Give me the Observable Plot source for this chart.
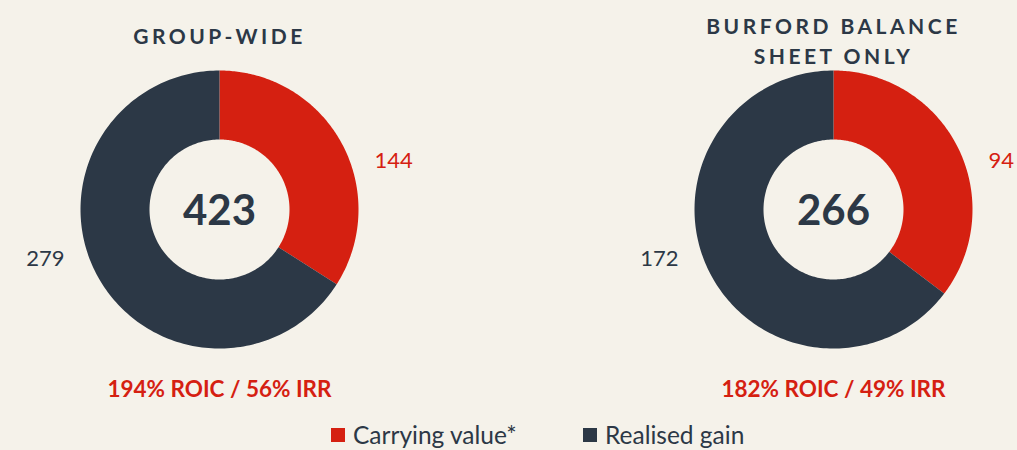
<!DOCTYPE html>
<html>
<head>
<meta charset="utf-8">
<script src="https://cdn.jsdelivr.net/npm/d3@7"></script>
<script src="https://cdn.jsdelivr.net/npm/@observablehq/plot@0.6"></script>
<style>
  html, body { margin: 0; padding: 0; background: #f5f2ea; }
  body { width: 1017px; height: 450px; overflow: hidden; font-family: Lato, "DejaVu Sans", sans-serif; }
  #chart svg { display: block; }
  .legend { position: absolute; left: 0; top: 420px; height: 30px; width: 1017px; }
  .legend .item { position: absolute; top: 0px; display: flex; align-items: center; font-size: 24.5px; line-height: 30px; color: #2c3846; white-space: nowrap; }
  .legend .sw { width: 14px; height: 14px; margin-right: 8px; }
</style>
</head>
<body>
<div id="chart"></div>
<script>
// ---- data ----
const titles = ["GROUP-WIDE", "BURFORD BALANCE\nSHEET ONLY"];
const categories = ["Carrying value*", "Realised gain"];
const carryingValue = [144, 94];
const realisedGain = [279, 172];
const totals = [423, 266];
const returnsText = ["194% ROIC / 56% IRR", "182% ROIC / 49% IRR"];
const colors = ["#d52011", "#2c3846"];

// ---- layout ----
const W = 1017, H = 420;
const centersX = [219, 833];
const centerY = 209;
const R = 139, r = 70;
const labelGap = 16, labelDy = 49;

const arcPoints = [];
const valueLabels = [];
titles.forEach((t, i) => {
  const slices = d3.pie().sort(null).value(d => d.value)([
    {cat: categories[0], value: carryingValue[i]},
    {cat: categories[1], value: realisedGain[i]}
  ]);
  slices.forEach((s, j) => {
    const key = i + "-" + j;
    const n = 180;
    const pts = [];
    for (let k = 0; k <= n; k++) {
      const a = s.startAngle + (s.endAngle - s.startAngle) * k / n;
      pts.push([centersX[i] + R * Math.sin(a), centerY - R * Math.cos(a)]);
    }
    for (let k = n; k >= 0; k--) {
      const a = s.startAngle + (s.endAngle - s.startAngle) * k / n;
      pts.push([centersX[i] + r * Math.sin(a), centerY - r * Math.cos(a)]);
    }
    pts.forEach(p => arcPoints.push({key, cat: s.data.cat, x: p[0], y: p[1]}));
    const mid = (s.startAngle + s.endAngle) / 2;
    const side = Math.sin(mid) >= 0 ? 1 : -1;
    valueLabels.push({
      cat: s.data.cat, side, text: String(s.data.value),
      x: centersX[i] + side * (R + labelGap),
      y: centerY + (Math.cos(mid) >= 0 ? -labelDy : labelDy)
    });
  });
});

const titleRows = titles.map((t, i) => ({text: t, x: centersX[i], y: t.includes("\n") ? 38.5 : 34}));
const totalRows = totals.map((v, i) => ({text: String(v), x: centersX[i], y: centerY + 2}));
const returnRows = returnsText.map((t, i) => ({text: t, x: centersX[i], y: 389}));

const fontFamily = 'Lato, "DejaVu Sans", sans-serif';

const plot = Plot.plot({
  width: W, height: H, margin: 0,
  x: {domain: [0, W], range: [0, W], axis: null},
  y: {domain: [0, H], range: [0, H], axis: null},
  color: {domain: categories, range: colors},
  style: {background: "transparent", fontFamily},
  marks: [
    Plot.line(arcPoints, {x: "x", y: "y", z: "key", fill: "cat", stroke: "none", curve: "linear"}),
    Plot.text(titleRows, {x: "x", y: "y", text: "text", fill: "#2c3846", fontSize: 21, fontWeight: "bold", lineHeight: 1.43, lineAnchor: "middle"}),
    Plot.text(totalRows, {x: "x", y: "y", text: "text", fill: "#2c3846", fontSize: 42, fontWeight: "bold"}),
    Plot.text(valueLabels.filter(d => d.side > 0), {x: "x", y: "y", text: "text", fill: "cat", fontSize: 22, textAnchor: "start"}),
    Plot.text(valueLabels.filter(d => d.side < 0), {x: "x", y: "y", text: "text", fill: "cat", fontSize: 22, textAnchor: "end"}),
    Plot.text(returnRows, {x: "x", y: "y", text: "text", fill: colors[0], fontSize: 22.5, fontWeight: "bold"})
  ]
});
// letter-spacing for the titles
const titleFlat = titles.map(t => t.replace("\n", ""));
plot.querySelectorAll("text").forEach(el => {
  if (titleFlat.includes(el.textContent)) el.setAttribute("letter-spacing", "3.5");
});
document.getElementById("chart").appendChild(plot);

// legend
const legend = document.createElement("div");
legend.className = "legend";
const legendX = [331, 583];
categories.forEach((c, i) => {
  const item = document.createElement("div");
  item.className = "item";
  item.style.left = legendX[i] + "px";
  const sw = document.createElement("span");
  sw.className = "sw";
  sw.style.background = colors[i];
  const tx = document.createElement("span");
  tx.textContent = c;
  item.appendChild(sw); item.appendChild(tx);
  legend.appendChild(item);
});
document.body.appendChild(legend);
</script>
</body>
</html>
